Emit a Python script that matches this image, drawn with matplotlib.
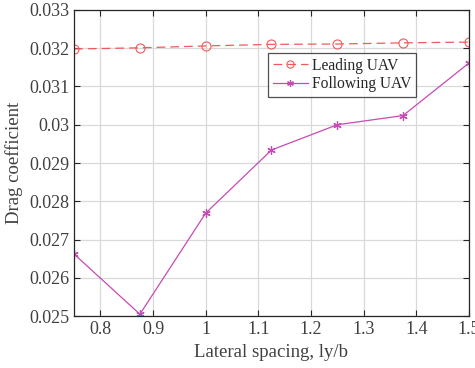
import matplotlib
matplotlib.use("Agg")
import matplotlib.pyplot as plt

plt.rcParams['font.family'] = ['Liberation Serif', 'DejaVu Serif']

spacing = [0.75, 0.875, 1.0, 1.125, 1.25, 1.375, 1.5]
leading = [0.03198, 0.03201, 0.03206, 0.03210, 0.03211, 0.03214, 0.03216]
following = [0.02662, 0.02505, 0.02769, 0.02934, 0.03000, 0.03024, 0.03161]
xticks = [0.8, 0.9, 1.0, 1.1, 1.2, 1.3, 1.4, 1.5]
xticklabels = ['0.8', '0.9', '1', '1.1', '1.2', '1.3', '1.4', '1.5']
yticks = [0.025, 0.026, 0.027, 0.028, 0.029, 0.03, 0.031, 0.032, 0.033]
yticklabels = ['0.025', '0.026', '0.027', '0.028', '0.029', '0.03', '0.031', '0.032', '0.033']

fig = plt.figure(figsize=(4.75, 3.68), dpi=100)
ax = fig.add_axes([0.156, 0.141, 0.831, 0.832])

ax.plot(spacing, leading, linestyle=(0, (7, 4)), color='#f25a5a', linewidth=0.9,
        marker='o', markersize=6.5, markerfacecolor='none', markeredgewidth=0.8,
        label='Leading UAV')
ax.plot(spacing, following, linestyle='-', color='#c54bb5', linewidth=0.9,
        marker=(6, 2, 0), markersize=6, markeredgewidth=0.9,
        label='Following UAV')

ax.set_xlim(0.75, 1.5)
ax.set_ylim(0.025, 0.033)
ax.set_xticks(xticks)
ax.set_xticklabels(xticklabels)
ax.set_yticks(yticks)
ax.set_yticklabels(yticklabels)
ax.tick_params(direction='in', top=True, right=True, labelsize=13,
               colors='#262626', labelcolor='#404040', length=4)
for s in ax.spines.values():
    s.set_color('#262626')
    s.set_linewidth(0.9)
ax.grid(True, color='#d9d9d9', linewidth=0.9)
ax.set_axisbelow(True)

ax.set_xlabel('Lateral spacing, ly/b', fontsize=13.5, color='#404040')
ax.set_ylabel('Drag coefficient', fontsize=13.5, color='#404040')

leg = ax.legend(loc='upper left', bbox_to_anchor=(0.491, 0.859), fontsize=11.2,
                frameon=True, fancybox=False, edgecolor='#262626',
                borderpad=0.3, labelspacing=0.15, handlelength=2.3,
                handletextpad=0.25, borderaxespad=0, markerscale=0.8)
leg.get_frame().set_linewidth(0.9)
for t in leg.get_texts():
    t.set_color('#262626')

fig.savefig('out.png', dpi=100)
